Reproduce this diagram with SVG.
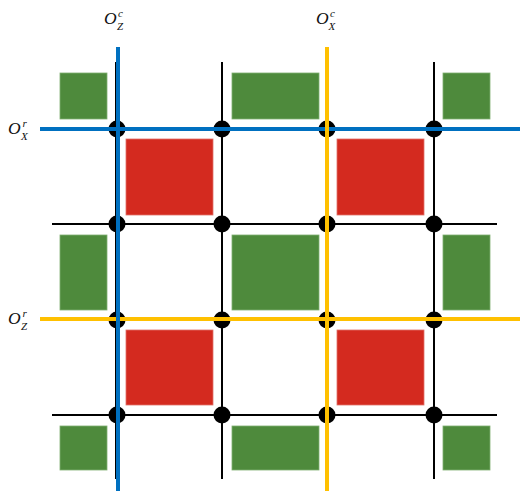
<svg xmlns="http://www.w3.org/2000/svg" width="520" height="491" viewBox="0 0 520 491">
  <style>
    .grid { stroke: #000; stroke-width: 2; fill: none; }
    .blue { stroke: #0070c0; stroke-width: 4; fill: none; }
    .gold { stroke: #ffc000; stroke-width: 4; fill: none; }
    .dot { fill: #000; }
    .g { fill: #4e8a3c; stroke: #7fae70; stroke-width: 0.8; }
    .r { fill: #d42a1f; stroke: #e0716a; stroke-width: 0.8; }
    .lbl { font-family: "Liberation Serif", "DejaVu Serif", serif; font-style: italic; font-size: 17.5px; fill: #111; }
    .idx { font-family: "Liberation Serif", "DejaVu Serif", serif; font-style: italic; font-size: 11px; fill: #111; }
  </style>
  <rect width="520" height="491" fill="#fff"/>

  <!-- tiles -->
  <g id="tiles-green">
    <rect class="g" x="60" y="73" width="47" height="46"/>
    <rect class="g" x="232" y="73" width="87" height="46"/>
    <rect class="g" x="443" y="73" width="47" height="46"/>
    <rect class="g" x="60" y="235" width="47" height="75"/>
    <rect class="g" x="232" y="235" width="87" height="75"/>
    <rect class="g" x="443" y="235" width="47" height="75"/>
    <rect class="g" x="60" y="426" width="47" height="44"/>
    <rect class="g" x="232" y="426" width="87" height="44"/>
    <rect class="g" x="443" y="426" width="47" height="44"/>
  </g>
  <g id="tiles-red">
    <rect class="r" x="126" y="139" width="87" height="76"/>
    <rect class="r" x="337" y="139" width="87" height="76"/>
    <rect class="r" x="126" y="330" width="87" height="75"/>
    <rect class="r" x="337" y="330" width="87" height="75"/>
  </g>

  <!-- grid lines -->
  <g id="connectors">
    <line class="grid" x1="116" y1="62" x2="116" y2="479"/>
    <line class="grid" x1="222" y1="62" x2="222" y2="479"/>
    <line class="grid" x1="327" y1="62" x2="327" y2="479"/>
    <line class="grid" x1="434" y1="62" x2="434" y2="479"/>
    <line class="grid" x1="52" y1="129" x2="497" y2="129"/>
    <line class="grid" x1="52" y1="224" x2="497" y2="224"/>
    <line class="grid" x1="52" y1="320" x2="497" y2="320"/>
    <line class="grid" x1="52" y1="415" x2="497" y2="415"/>
  </g>

  <!-- vertices -->
  <g id="vertices">
    <circle class="dot" cx="117" cy="129" r="8.5"/>
    <circle class="dot" cx="222" cy="129" r="8.5"/>
    <circle class="dot" cx="327" cy="129" r="8.5"/>
    <circle class="dot" cx="434" cy="129" r="8.5"/>
    <circle class="dot" cx="117" cy="224" r="8.5"/>
    <circle class="dot" cx="222" cy="224" r="8.5"/>
    <circle class="dot" cx="327" cy="224" r="8.5"/>
    <circle class="dot" cx="434" cy="224" r="8.5"/>
    <circle class="dot" cx="117" cy="320" r="8.5"/>
    <circle class="dot" cx="222" cy="320" r="8.5"/>
    <circle class="dot" cx="327" cy="320" r="8.5"/>
    <circle class="dot" cx="434" cy="320" r="8.5"/>
    <circle class="dot" cx="117" cy="415" r="8.5"/>
    <circle class="dot" cx="222" cy="415" r="8.5"/>
    <circle class="dot" cx="327" cy="415" r="8.5"/>
    <circle class="dot" cx="434" cy="415" r="8.5"/>
  </g>

  <!-- logical operator paths -->
  <g id="operators">
    <line class="blue" x1="40" y1="129" x2="520" y2="129"/>
    <line class="gold" x1="40" y1="319" x2="520" y2="319"/>
    <line class="blue" x1="118" y1="47" x2="118" y2="491"/>
    <line class="gold" x1="327" y1="47" x2="327" y2="491"/>
  </g>

  <!-- operator labels: base letter, superscript, subscript -->
  <g id="label-ozc">
    <text class="lbl" x="104" y="24">O</text>
    <text class="idx" x="118" y="17">c</text>
    <text class="idx" x="117" y="29.5">Z</text>
  </g>
  <g id="label-oxc">
    <text class="lbl" x="316" y="24">O</text>
    <text class="idx" x="330" y="17">c</text>
    <text class="idx" x="328.5" y="29.5">X</text>
  </g>
  <g id="label-oxr">
    <text class="lbl" x="8" y="134">O</text>
    <text class="idx" x="22.5" y="127">r</text>
    <text class="idx" x="21" y="139.5">X</text>
  </g>
  <g id="label-ozr">
    <text class="lbl" x="8" y="324">O</text>
    <text class="idx" x="22.5" y="317">r</text>
    <text class="idx" x="21" y="329.5">Z</text>
  </g>
</svg>
